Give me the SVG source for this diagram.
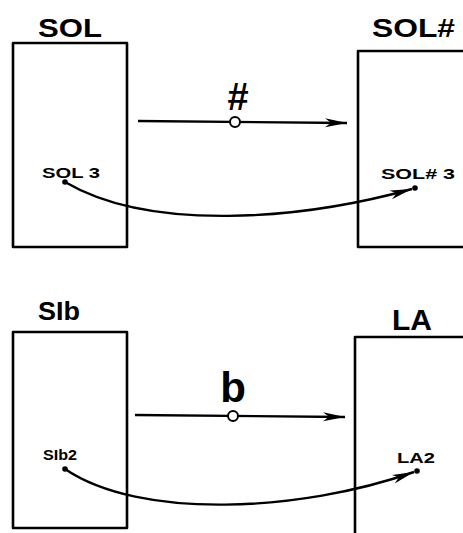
<svg xmlns="http://www.w3.org/2000/svg" width="463" height="533" viewBox="0 0 463 533">
<defs>
<style>
.box{fill:none;stroke:#000;stroke-width:2.6;stroke-linejoin:round}
.ln{fill:none;stroke:#000;stroke-width:2.4}
.dot{fill:#000}
.knob{fill:#fff;stroke:#000;stroke-width:2}
.big{font-family:"Liberation Sans","DejaVu Sans",sans-serif;font-weight:bold;fill:#000}
.small{font-family:"Liberation Sans","DejaVu Sans",sans-serif;font-weight:bold;font-size:14px;fill:#000}
.sym{font-family:"Liberation Sans","DejaVu Sans",sans-serif;font-weight:bold;fill:#000}
</style>
<marker id="ah" viewBox="0 0 22 10" refX="22" refY="5" markerWidth="22" markerHeight="10" markerUnits="userSpaceOnUse" orient="auto">
<path d="M0 0.5 L22 5 L0 9.5 L6 5 Z" fill="#000"/>
</marker>
</defs>
<g id="node-sol">
<rect class="box" x="13" y="43" width="114" height="204"/>
<text class="big" x="38" y="37" font-size="26" textLength="64" lengthAdjust="spacingAndGlyphs">SOL</text>
<text class="small" x="42" y="178" textLength="58" lengthAdjust="spacingAndGlyphs">SOL 3</text>
<circle class="dot" cx="65" cy="182" r="2.8"/>
</g>
<g id="node-solsharp">
<path class="box" d="M463 51 H358 V247 H463"/>
<text class="big" x="372" y="37" font-size="25" textLength="83" lengthAdjust="spacingAndGlyphs">SOL#</text>
<text class="small" x="381" y="179" textLength="74" lengthAdjust="spacingAndGlyphs">SOL# 3</text>
<circle class="dot" cx="415" cy="188" r="2.8"/>
</g>
<g id="node-sib">
<rect class="box" x="13" y="332" width="114" height="196"/>
<text class="big" x="38" y="320" font-size="25" textLength="42" lengthAdjust="spacingAndGlyphs">SIb</text>
<text class="small" x="43" y="460" textLength="34" lengthAdjust="spacingAndGlyphs">SIb2</text>
<circle class="dot" cx="65" cy="469" r="2.8"/>
</g>
<g id="node-la">
<path class="box" d="M463 337 H355 V533"/>
<text class="big" x="392" y="330" font-size="29" textLength="40" lengthAdjust="spacingAndGlyphs">LA</text>
<text class="small" x="397" y="463" textLength="38" lengthAdjust="spacingAndGlyphs">LA2</text>
<circle class="dot" cx="417" cy="471" r="2.8"/>
</g>
<g id="connectors">
<path class="ln" d="M138 121 L347 123" marker-end="url(#ah)"/>
<circle class="knob" cx="235" cy="122" r="5"/>
<text class="sym" x="238" y="110" font-size="38" text-anchor="middle">#</text>
<path class="ln" d="M65 182 C150 232 300 220 412 189" marker-end="url(#ah)"/>
<path class="ln" d="M135 415 L345 417" marker-end="url(#ah)"/>
<circle class="knob" cx="233" cy="416" r="5"/>
<text class="sym" x="233" y="402" font-size="42" text-anchor="middle">b</text>
<path class="ln" d="M65 469 C140 520 300 512 414 472" marker-end="url(#ah)"/>
</g>
</svg>
